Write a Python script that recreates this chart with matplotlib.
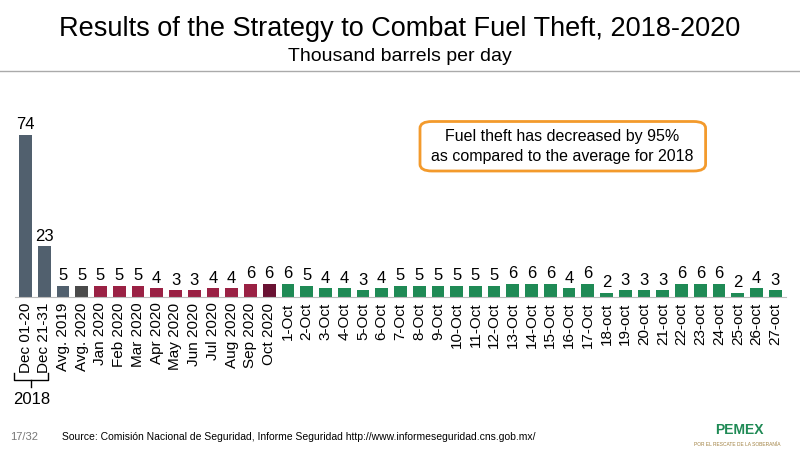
import matplotlib.pyplot as plt
from matplotlib.patches import FancyBboxPatch

# Data
labels = ["Dec 01-20", "Dec 21-31", "Avg. 2019", "Avg. 2020", "Jan 2020", "Feb 2020", "Mar 2020",
          "Apr 2020", "May 2020", "Jun 2020", "Jul 2020", "Aug 2020", "Sep 2020", "Oct 2020"]
labels += [f"{d}-Oct" for d in range(1, 18)] + [f"{d}-oct" for d in range(18, 28)]
values = [74, 23, 5, 5, 5, 5, 5, 4, 3, 3, 4, 4, 6, 6,
          6, 5, 4, 4, 3, 4, 5, 5, 5, 5, 5, 5, 6, 6, 6, 4, 6,
          2, 3, 3, 3, 6, 6, 6, 2, 4, 3]
colors = (["#51606e", "#51606e", "#51606e", "#4a4a4a"] + ["#9a2144"] * 9 + ["#6a1233"]
          + ["#1f8a55"] * 27)

fig = plt.figure(figsize=(8, 4.5), dpi=100)
plt.rcParams['font.family'] = ['Liberation Sans', 'DejaVu Sans']

ax = fig.add_axes([0.019, 0.34, 0.963, 0.405])
x = range(len(values))
ax.bar(x, values, color=colors, width=0.68)
for i, v in enumerate(values):
    ax.text(i, v + 1.2, str(v), ha="center", va="bottom", fontsize=12)
ax.set_xlim(-0.55, len(values) - 0.45)
ax.set_ylim(0, 83)
ax.set_xticks(list(x))
ax.set_xticklabels(labels, rotation=90, fontsize=11)
ax.tick_params(length=0, pad=4)
ax.set_yticks([])
for s in ["top", "right", "left"]:
    ax.spines[s].set_visible(False)
ax.spines["bottom"].set_color("#bbbbbb")

# Titles and header rule
fig.text(0.5, 0.935, "Results of the Strategy to Combat Fuel Theft, 2018-2020",
         ha="center", va="center", fontsize=19.5)
fig.text(0.5, 0.874, "Thousand barrels per day", ha="center", va="center", fontsize=14)
fig.add_artist(plt.Line2D([0, 1], [0.843, 0.843], color="#aaaaaa", lw=1))

# 2018 bracket
fig.add_artist(plt.Line2D([0.017, 0.017, 0.06, 0.06], [0.172, 0.155, 0.155, 0.172],
                          color="black", lw=1))
fig.add_artist(plt.Line2D([0.0385, 0.0385], [0.155, 0.14], color="black", lw=1))
fig.text(0.039, 0.112, "2018", ha="center", va="center", fontsize=12)

# Annotation box
box = FancyBboxPatch((0.525, 0.62), 0.357, 0.11, boxstyle="round,pad=0.0,rounding_size=0.015",
                     transform=fig.transFigure, fc="white", ec="#f39a2c", lw=2)
fig.add_artist(box)
fig.text(0.703, 0.675, "Fuel theft has decreased by 95%\nas compared to the average for 2018",
         ha="center", va="center", fontsize=11.5, linespacing=1.4)

# Footer
fig.text(0.012, 0.03, "17/32", fontsize=8, color="#777777", va="center")
fig.text(0.078, 0.03, "Source: Comisión Nacional de Seguridad, Informe Seguridad http://www.informeseguridad.cns.gob.mx/",
         fontsize=7.5, va="center")
fig.text(0.955, 0.045, "PEMEX", fontsize=10, fontweight="bold", color="#1f8a55", ha="right", va="center")
fig.text(0.975, 0.012, "POR EL RESCATE DE LA SOBERANÍA", fontsize=3.5, color="#a08040", ha="right", va="center")

fig.savefig("out.png", dpi=100)
